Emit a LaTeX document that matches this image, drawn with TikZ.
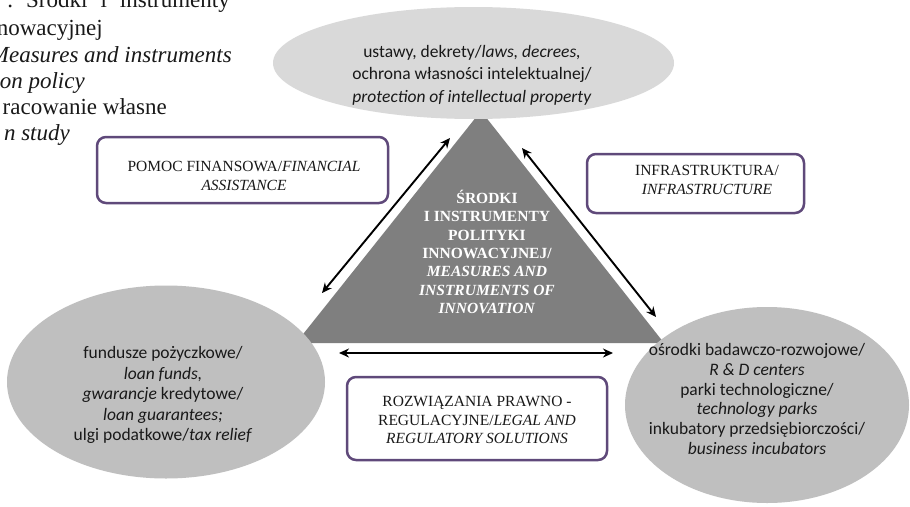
\documentclass[tikz,border=0pt]{standalone}
\usepackage{fontspec}
\setmainfont{Liberation Serif}
\newfontfamily\calib{Carlito}
\usetikzlibrary{arrows.meta,shapes.geometric}
\definecolor{topgray}{HTML}{D9D9D9}
\definecolor{sidegray}{HTML}{BFBFBF}
\definecolor{trigray}{HTML}{7F7F7F}
\definecolor{boxpurple}{HTML}{5F497A}
\tikzset{
  ovalshape/.style={ellipse, inner sep=0pt, draw=none},
  ovaltext/.style={align=center, text=black!90, font=\calib\fontsize{17.5}{20.5}\selectfont, inner sep=0pt},
  catbox/.style={draw=boxpurple, line width=2.5pt, rounded corners=9pt, fill=white},
  cattext/.style={align=center, text=black!90, font=\fontsize{15.5}{18.5}\selectfont, inner sep=0pt},
  centertext/.style={align=center, text=white, font=\bfseries\fontsize{15.5}{18.3}\selectfont, inner sep=0pt},
  captext/.style={anchor=base east, inner sep=0pt, font=\fontsize{23}{26}\selectfont, text=black!90},
  dblarrow/.style={line width=1.9pt, {Stealth[length=10pt,width=9pt]}-{Stealth[length=10pt,width=9pt]}}
}
\begin{document}
\begin{tikzpicture}[x=1pt,y=-1pt]
\useasboundingbox (0,0) rectangle (910,506);
\clip (0,0) rectangle (910,506);
\fill[white] (0,0) rectangle (910,506);

% caption fragments (cut at the page edge)
\node[captext] (cap1) at (230,7) {.\hspace{13pt}Środki\hspace{13pt}i\hspace{13pt}instrumenty};
\node[captext] (cap2) at (103,35) {nowacyjnej};
\node[captext] (cap3) at (232,62) {\itshape Measures and instruments};
\node[captext] (cap4) at (85,88) {\itshape on policy};
\node[captext] (cap5) at (167,114) {racowanie własne};
\node[captext] (cap6) at (70,140) {\itshape n study};

% central triangle
\coordinate (apex) at (481,111);
\coordinate (bl) at (296,343);
\coordinate (br) at (664,343);
\fill[trigray] (apex) -- (bl) -- (br) -- cycle;
\node[centertext] (center) at (487,252) {ŚRODKI\\I INSTRUMENTY\\POLITYKI\\INNOWACYJNEJ/\\\textit{MEASURES AND}\\\textit{INSTRUMENTS OF}\\\textit{INNOVATION}};

% ellipses
\node[ovalshape, fill=topgray, minimum width=401pt, minimum height=112pt] (topov) at (473.5,63) {};
\node[ovaltext, font=\calib\fontsize{17.5}{22.5}\selectfont] (toptext) at (472,75) {ustawy, dekrety/\textit{laws, decrees,}\\ochrona własności intelektualnej/\\\textit{protection of intellectual property}};

\node[ovalshape, fill=sidegray, minimum width=318pt, minimum height=193pt] (leftov) at (166,382) {};
\node[ovaltext] (lefttext) at (163,395) {fundusze pożyczkowe/\\\textit{loan funds,}\\\textit{gwarancje} kredytowe/\\\textit{loan guarantees;}\\ulgi podatkowe/\textit{tax relief}};

\node[ovalshape, fill=sidegray, minimum width=284pt, minimum height=196pt] (rightov) at (767,405) {};
\node[ovaltext, font=\calib\fontsize{17.5}{19.8}\selectfont] (righttext) at (757,399) {ośrodki badawczo-rozwojowe/\\\textit{R \& D centers}\\parki technologiczne/\\\textit{technology parks}\\inkubatory przedsiębiorczości/\\\textit{business incubators}};

% boxes
\draw[catbox] (97,137) rectangle (388,203);
\node[cattext] (fin) at (244,176) {POMOC FINANSOWA/\textit{FINANCIAL}\\\textit{ASSISTANCE}};
\draw[catbox] (587,154) rectangle (804,213);
\node[cattext] (infra) at (707,180) {INFRASTRUKTURA/\\\textit{INFRASTRUCTURE}};
\draw[catbox] (347,377) rectangle (607,460);
\node[cattext] (legal) at (477,420) {ROZWIĄZANIA PRAWNO -\\REGULACYJNE/\textit{LEGAL AND}\\\textit{REGULATORY SOLUTIONS}};

% arrows
\coordinate (la1) at (322,293);
\coordinate (la2) at (450,138);
\coordinate (ra1) at (522,148);
\coordinate (ra2) at (656,317);
\coordinate (ba1) at (339,353);
\coordinate (ba2) at (613,353);
\draw[dblarrow] (la1) -- (la2);
\draw[dblarrow] (ra1) -- (ra2);
\draw[dblarrow] (ba1) -- (ba2);
\end{tikzpicture}
\end{document}
